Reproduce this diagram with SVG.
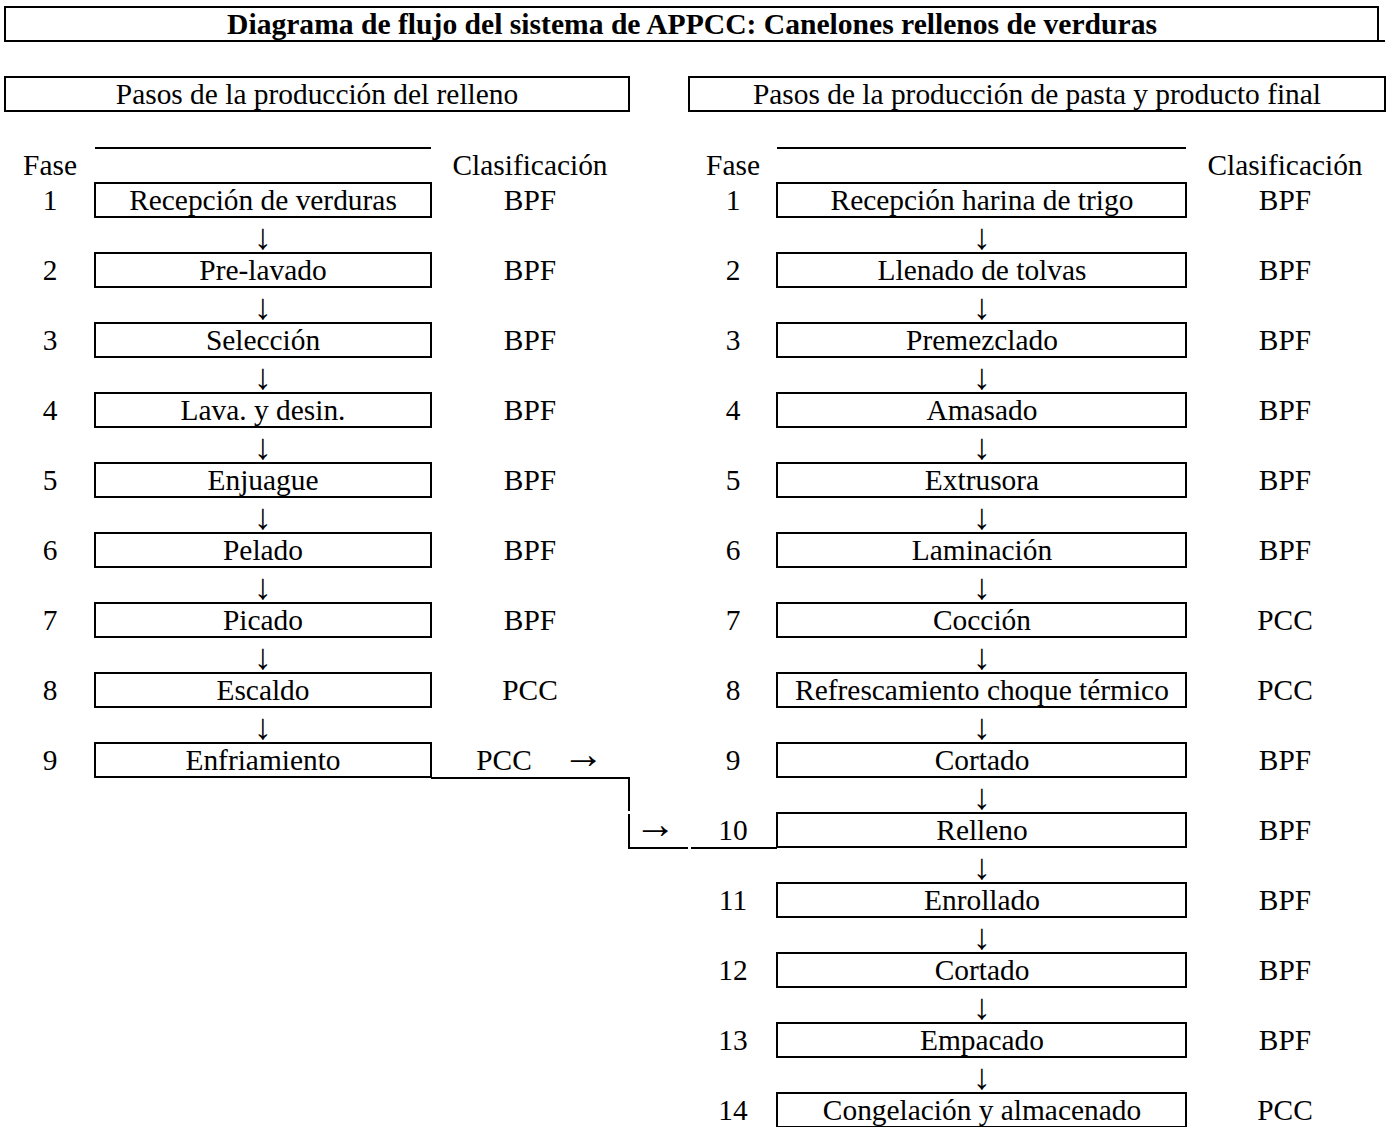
<svg xmlns="http://www.w3.org/2000/svg" width="1388" height="1127" viewBox="0 0 1388 1127">
<style>
text{font-family:"Liberation Serif","Times New Roman",serif;font-size:29.4px;fill:#000}
.t{font-weight:bold;font-size:29.6px}
.c{text-anchor:middle}
.a{font-size:36px}
.h{font-size:42px}
.b{fill:#fff;stroke:#000;stroke-width:2}
.l{stroke:#000;stroke-width:2;fill:none}
</style>
<rect width="1388" height="1127" fill="#fff"/>
<g id="title">
<rect class="b" x="5" y="7" width="1373" height="34"/>
<line class="l" x1="1378" y1="41" x2="1385" y2="41"/>
<text class="t c" x="692" y="34">Diagrama de flujo del sistema de APPCC: Canelones rellenos de verduras</text>
</g>
<g id="hdr-left">
<rect class="b" x="5" y="77" width="624" height="34"/>
<text class="c" x="317" y="104">Pasos de la producción del relleno</text>
</g>
<g id="hdr-right">
<rect class="b" x="689" y="77" width="696" height="34"/>
<text class="c" x="1037" y="104">Pasos de la producción de pasta y producto final</text>
</g>
<g id="col-heads">
<line class="l" x1="95" y1="148" x2="431" y2="148"/>
<line class="l" x1="777" y1="148" x2="1186" y2="148"/>
<text class="c" x="50" y="175">Fase</text>
<text class="c" x="530" y="175">Clasificación</text>
<text class="c" x="733" y="175">Fase</text>
<text class="c" x="1285" y="175">Clasificación</text>
</g>
<g id="L1"><text class="c" x="50" y="210">1</text><rect class="b" x="95" y="183" width="336" height="34"/><text class="c" x="263" y="210">Recepción de verduras</text><text class="c" x="530" y="210">BPF</text></g>
<g id="L2"><text class="c" x="50" y="280">2</text><rect class="b" x="95" y="253" width="336" height="34"/><text class="c" x="263" y="280">Pre-lavado</text><text class="c" x="530" y="280">BPF</text></g>
<g id="L3"><text class="c" x="50" y="350">3</text><rect class="b" x="95" y="323" width="336" height="34"/><text class="c" x="263" y="350">Selección</text><text class="c" x="530" y="350">BPF</text></g>
<g id="L4"><text class="c" x="50" y="420">4</text><rect class="b" x="95" y="393" width="336" height="34"/><text class="c" x="263" y="420">Lava. y desin.</text><text class="c" x="530" y="420">BPF</text></g>
<g id="L5"><text class="c" x="50" y="490">5</text><rect class="b" x="95" y="463" width="336" height="34"/><text class="c" x="263" y="490">Enjuague</text><text class="c" x="530" y="490">BPF</text></g>
<g id="L6"><text class="c" x="50" y="560">6</text><rect class="b" x="95" y="533" width="336" height="34"/><text class="c" x="263" y="560">Pelado</text><text class="c" x="530" y="560">BPF</text></g>
<g id="L7"><text class="c" x="50" y="630">7</text><rect class="b" x="95" y="603" width="336" height="34"/><text class="c" x="263" y="630">Picado</text><text class="c" x="530" y="630">BPF</text></g>
<g id="L8"><text class="c" x="50" y="700">8</text><rect class="b" x="95" y="673" width="336" height="34"/><text class="c" x="263" y="700">Escaldo</text><text class="c" x="530" y="700">PCC</text></g>
<g id="L9"><text class="c" x="50" y="770">9</text><rect class="b" x="95" y="743" width="336" height="34"/><text class="c" x="263" y="770">Enfriamiento</text><text class="c" x="504" y="770">PCC</text></g>
<g id="R1"><text class="c" x="733" y="210">1</text><rect class="b" x="777" y="183" width="409" height="34"/><text class="c" x="982" y="210">Recepción harina de trigo</text><text class="c" x="1285" y="210">BPF</text></g>
<g id="R2"><text class="c" x="733" y="280">2</text><rect class="b" x="777" y="253" width="409" height="34"/><text class="c" x="982" y="280">Llenado de tolvas</text><text class="c" x="1285" y="280">BPF</text></g>
<g id="R3"><text class="c" x="733" y="350">3</text><rect class="b" x="777" y="323" width="409" height="34"/><text class="c" x="982" y="350">Premezclado</text><text class="c" x="1285" y="350">BPF</text></g>
<g id="R4"><text class="c" x="733" y="420">4</text><rect class="b" x="777" y="393" width="409" height="34"/><text class="c" x="982" y="420">Amasado</text><text class="c" x="1285" y="420">BPF</text></g>
<g id="R5"><text class="c" x="733" y="490">5</text><rect class="b" x="777" y="463" width="409" height="34"/><text class="c" x="982" y="490">Extrusora</text><text class="c" x="1285" y="490">BPF</text></g>
<g id="R6"><text class="c" x="733" y="560">6</text><rect class="b" x="777" y="533" width="409" height="34"/><text class="c" x="982" y="560">Laminación</text><text class="c" x="1285" y="560">BPF</text></g>
<g id="R7"><text class="c" x="733" y="630">7</text><rect class="b" x="777" y="603" width="409" height="34"/><text class="c" x="982" y="630">Cocción</text><text class="c" x="1285" y="630">PCC</text></g>
<g id="R8"><text class="c" x="733" y="700">8</text><rect class="b" x="777" y="673" width="409" height="34"/><text class="c" x="982" y="700">Refrescamiento choque térmico</text><text class="c" x="1285" y="700">PCC</text></g>
<g id="R9"><text class="c" x="733" y="770">9</text><rect class="b" x="777" y="743" width="409" height="34"/><text class="c" x="982" y="770">Cortado</text><text class="c" x="1285" y="770">BPF</text></g>
<g id="R10"><text class="c" x="733" y="840">10</text><rect class="b" x="777" y="813" width="409" height="34"/><text class="c" x="982" y="840">Relleno</text><text class="c" x="1285" y="840">BPF</text></g>
<g id="R11"><text class="c" x="733" y="910">11</text><rect class="b" x="777" y="883" width="409" height="34"/><text class="c" x="982" y="910">Enrollado</text><text class="c" x="1285" y="910">BPF</text></g>
<g id="R12"><text class="c" x="733" y="980">12</text><rect class="b" x="777" y="953" width="409" height="34"/><text class="c" x="982" y="980">Cortado</text><text class="c" x="1285" y="980">BPF</text></g>
<g id="R13"><text class="c" x="733" y="1050">13</text><rect class="b" x="777" y="1023" width="409" height="34"/><text class="c" x="982" y="1050">Empacado</text><text class="c" x="1285" y="1050">BPF</text></g>
<g id="R14"><text class="c" x="733" y="1120">14</text><rect class="b" x="777" y="1093" width="409" height="34"/><text class="c" x="982" y="1120">Congelación y almacenado</text><text class="c" x="1285" y="1120">PCC</text></g>
<g id="connectors">
<text class="c a" x="263" y="249">↓</text><text class="c a" x="263" y="319">↓</text><text class="c a" x="263" y="389">↓</text><text class="c a" x="263" y="459">↓</text>
<text class="c a" x="263" y="529">↓</text><text class="c a" x="263" y="599">↓</text><text class="c a" x="263" y="669">↓</text><text class="c a" x="263" y="739">↓</text>
<text class="c a" x="982" y="249">↓</text><text class="c a" x="982" y="319">↓</text><text class="c a" x="982" y="389">↓</text><text class="c a" x="982" y="459">↓</text>
<text class="c a" x="982" y="529">↓</text><text class="c a" x="982" y="599">↓</text><text class="c a" x="982" y="669">↓</text><text class="c a" x="982" y="739">↓</text>
<text class="c a" x="982" y="809">↓</text><text class="c a" x="982" y="879">↓</text><text class="c a" x="982" y="949">↓</text><text class="c a" x="982" y="1019">↓</text><text class="c a" x="982" y="1089">↓</text>
<text class="c h" x="583" y="768">→</text>
<text class="c h" x="655" y="838">→</text>
<polyline class="l" points="431,778 629,778 629,811"/>
<polyline class="l" points="629,814 629,848 688,848"/>
<line class="l" x1="691" y1="848" x2="777" y2="848"/>
</g>
</svg>
